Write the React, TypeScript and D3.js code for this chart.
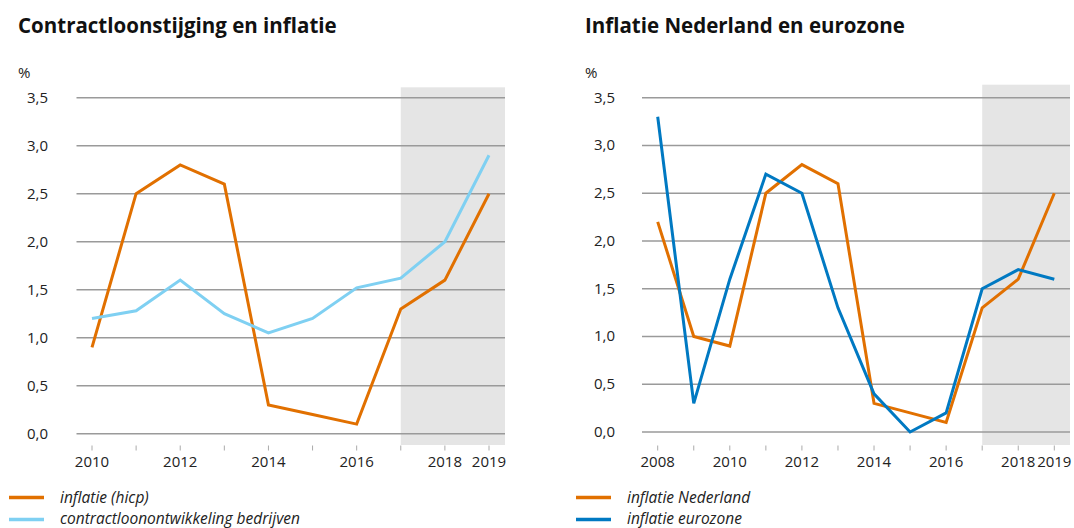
import React from "react";
import * as d3 from "d3";

const leftYears = [2010, 2011, 2012, 2013, 2014, 2015, 2016, 2017, 2018, 2019];
const leftInflatie = [0.9, 2.5, 2.8, 2.6, 0.3, 0.2, 0.1, 1.3, 1.6, 2.5];
const leftContractloon = [1.2, 1.28, 1.6, 1.25, 1.05, 1.2, 1.52, 1.62, 2.0, 2.9];

const rightYears = [2008, 2009, 2010, 2011, 2012, 2013, 2014, 2015, 2016, 2017, 2018, 2019];
const rightNederland = [2.2, 1.0, 0.9, 2.5, 2.8, 2.6, 0.3, 0.2, 0.1, 1.3, 1.6, 2.5];
const rightEurozone = [3.3, 0.3, 1.6, 2.7, 2.5, 1.3, 0.4, 0.0, 0.2, 1.5, 1.7, 1.6];

const yTicks = [0, 0.5, 1.0, 1.5, 2.0, 2.5, 3.0, 3.5];
const leftTickLabels = [2010, 2012, 2014, 2016, 2018, 2019];
const rightTickLabels = [2008, 2010, 2012, 2014, 2016, 2018, 2019];

const ORANGE = "#e17000";
const LIGHTBLUE = "#7fd0f2";
const BLUE = "#0079c2";
const FONT = "'Open Sans', sans-serif";

type Series = { name: string; color: string; values: number[] };

function Panel(props: {
  x0: number;
  title: string;
  years: number[];
  tickLabels: number[];
  series: Series[];
  labelRight: number;
  gridLeft: number;
  gridRight: number;
  firstX: number;
  lastX: number;
  y0: number;
  shadeTop: number;
  legendLineX: number;
  legendTextX: number;
}) {
  const { years, series } = props;
  const x = d3
    .scaleLinear()
    .domain([years[0], years[years.length - 1]])
    .range([props.firstX, props.lastX]);
  const y = d3.scaleLinear().domain([0, 3.5]).range([props.y0, 97.7]);
  const line = d3
    .line<[number, number]>()
    .x((d) => x(d[0]))
    .y((d) => y(d[1]));
  const shadeX = x(2017);
  return (
    <g>
      <text x={props.x0} y={33} fontFamily={FONT} fontWeight={700} fontSize={20.5} fill="#111">
        {props.title}
      </text>
      <text x={props.x0} y={78} fontFamily={FONT} fontSize={15} fill="#222">
        %
      </text>
      <rect
        x={shadeX}
        y={props.shadeTop}
        width={props.gridRight - shadeX}
        height={445 - props.shadeTop}
        fill="#e5e5e5"
      />
      {yTicks.map((t) => (
        <g key={t}>
          <line
            x1={props.gridLeft}
            x2={props.gridRight}
            y1={y(t)}
            y2={y(t)}
            stroke="#9a9a9a"
            strokeWidth={1.5}
          />
          <text
            x={props.labelRight}
            y={y(t) + 5}
            textAnchor="end"
            fontFamily={FONT}
            fontSize={15}
            fill="#222"
          >
            {d3.format(".1f")(t).replace(".", ",")}
          </text>
        </g>
      ))}
      {years.map((yr) => (
        <line
          key={yr}
          x1={x(yr)}
          x2={x(yr)}
          y1={445.5}
          y2={450.5}
          stroke="#aaa"
          strokeWidth={1}
        />
      ))}
      {props.tickLabels.map((yr) => (
        <text
          key={yr}
          x={x(yr)}
          y={467}
          textAnchor="middle"
          fontFamily={FONT}
          fontSize={15}
          fill="#222"
        >
          {yr}
        </text>
      ))}
      {series.map((s) => (
        <path
          key={s.name}
          d={line(years.map((yr, i) => [yr, s.values[i]] as [number, number])) || ""}
          fill="none"
          stroke={s.color}
          strokeWidth={3}
          strokeLinejoin="miter"
        />
      ))}
      {series.map((s, i) => (
        <g key={s.name}>
          <line
            x1={props.legendLineX}
            x2={props.legendLineX + 35}
            y1={497.5 + i * 22}
            y2={497.5 + i * 22}
            stroke={s.color}
            strokeWidth={3.5}
          />
          <text
            x={props.legendTextX}
            y={503 + i * 21}
            fontFamily={FONT}
            fontStyle="italic"
            fontSize={15.5}
            fill="#222"
          >
            {s.name}
          </text>
        </g>
      ))}
    </g>
  );
}

export default function App() {
  return (
    <svg
      width={1074}
      height={528}
      style={{ position: "absolute", left: 0, top: 0, background: "#fff" }}
    >
      <rect width={1074} height={528} fill="#fff" />
      <Panel
        x0={18}
        title="Contractloonstijging en inflatie"
        years={leftYears}
        tickLabels={leftTickLabels}
        series={[
          { name: "inflatie (hicp)", color: ORANGE, values: leftInflatie },
          { name: "contractloonontwikkeling bedrijven", color: LIGHTBLUE, values: leftContractloon },
        ]}
        labelRight={48}
        gridLeft={76.5}
        gridRight={505}
        firstX={92}
        lastX={489}
        y0={433.7}
        shadeTop={87.3}
        legendLineX={9}
        legendTextX={60}
      />
      <Panel
        x0={585}
        title="Inflatie Nederland en eurozone"
        years={rightYears}
        tickLabels={rightTickLabels}
        series={[
          { name: "inflatie Nederland", color: ORANGE, values: rightNederland },
          { name: "inflatie eurozone", color: BLUE, values: rightEurozone },
        ]}
        labelRight={615}
        gridLeft={642}
        gridRight={1070}
        firstX={657.7}
        lastX={1054.3}
        y0={432}
        shadeTop={84.7}
        legendLineX={576}
        legendTextX={627}
      />
    </svg>
  );
}
